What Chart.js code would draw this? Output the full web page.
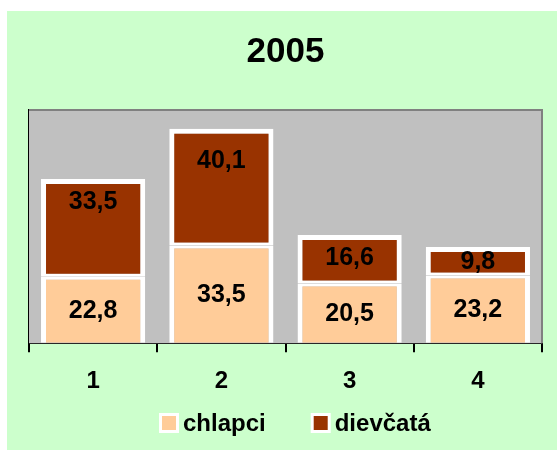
<!DOCTYPE html>
<html>
<head>
<meta charset="utf-8">
<script src="https://cdn.jsdelivr.net/npm/chart.js@4/dist/chart.umd.min.js"></script>
<style>
  html, body { margin: 0; padding: 0; background: #ffffff; }
  #wrap { position: absolute; left: 7px; top: 11px; width: 550px; height: 439px; background: #CCFFCC; }
  canvas { display: block; }
</style>
</head>
<body>
<div id="wrap"><canvas id="chart" width="550" height="439"></canvas></div>
<script>
  // --- Data ---
  const categories = ['1', '2', '3', '4'];
  const chlapci = [22.8, 33.5, 20.5, 23.2];
  const dievcata = [33.5, 40.1, 16.6, 9.8];
  const seriesNames = ['chlapci', 'dievčatá'];
  const chartTitle = '2005';

  const FONT = "'Liberation Sans', Arial, sans-serif";
  const PEACH = '#FFCC99';
  const BROWN = '#993300';

  function fmt(v) {
    return v.toFixed(1).replace('.', ',');
  }

  // plot background + frame
  const plotFrame = {
    id: 'plotFrame',
    beforeDatasetsDraw: function (chart) {
      const a = chart.chartArea;
      const c = chart.ctx;
      c.save();
      c.fillStyle = '#C0C0C0';
      c.fillRect(a.left, a.top, a.right - a.left, a.bottom - a.top);
      c.strokeStyle = '#808080';
      c.lineWidth = 2;
      c.beginPath();
      c.moveTo(a.left, a.top);
      c.lineTo(a.right, a.top);
      c.lineTo(a.right, a.bottom);
      c.stroke();
      c.restore();
    }
  };

  // value labels inside the segments
  const valueLabels = {
    id: 'valueLabels',
    afterDatasetsDraw: function (chart) {
      const c = chart.ctx;
      c.save();
      c.font = 'bold 25px ' + FONT;
      c.fillStyle = '#000000';
      c.textAlign = 'center';
      c.textBaseline = 'middle';
      chart.data.datasets.forEach(function (ds, di) {
        chart.getDatasetMeta(di).data.forEach(function (bar, i) {
          const top = bar.y;
          const center = (bar.y + bar.base) / 2;
          let y = center;
          if (di === 1) {
            y = Math.min(center, Math.max(center - 27, top + 22));
          }
          c.fillText(fmt(ds.data[i]), bar.x, y + 1);
        });
      });
      c.restore();
    }
  };

  // legend drawn by hand (tight box/text gap)
  const bottomLegend = {
    id: 'bottomLegend',
    afterDraw: function (chart) {
      const c = chart.ctx;
      c.save();
      c.font = 'bold 24px ' + FONT;
      c.textBaseline = 'middle';
      c.textAlign = 'left';
      let x = 152;
      const y = 412;
      chart.data.datasets.forEach(function (ds) {
        c.fillStyle = '#FFFFFF';
        c.fillRect(x, y - 10, 20, 20);
        c.fillStyle = ds.backgroundColor;
        c.fillRect(x + 3, y - 7, 14, 14);
        c.fillStyle = '#000000';
        c.fillText(ds.label, x + 24, y + 1);
        x += 24 + c.measureText(ds.label).width + 45;
      });
      c.restore();
    }
  };

  new Chart(document.getElementById('chart'), {
    type: 'bar',
    data: {
      labels: categories,
      datasets: [{
        label: seriesNames[0],
        data: chlapci,
        backgroundColor: PEACH,
        borderColor: '#FFFFFF',
        borderWidth: { left: 5, right: 5, top: 3, bottom: 0 },
        borderSkipped: false
      }, {
        label: seriesNames[1],
        data: dievcata,
        backgroundColor: BROWN,
        borderColor: '#FFFFFF',
        borderWidth: { left: 5, right: 5, top: 5, bottom: 3 },
        borderSkipped: false
      }]
    },
    options: {
      responsive: false,
      animation: false,
      datasets: {
        bar: { categoryPercentage: 1, barPercentage: 0.8125 }
      },
      layout: { padding: { left: 22, right: 15, top: 0, bottom: 39 } },
      plugins: {
        legend: { display: false },
        tooltip: { enabled: false },
        title: {
          display: true,
          text: chartTitle,
          color: '#000000',
          font: { family: FONT, size: 35, weight: 'bold', lineHeight: 1.2 },
          padding: { top: 20, bottom: 37 }
        }
      },
      scales: {
        x: {
          stacked: true,
          grid: {
            offset: true,
            drawOnChartArea: false,
            color: '#000000',
            lineWidth: 2,
            tickLength: 9
          },
          border: { color: '#000000', width: 2 },
          ticks: {
            color: '#000000',
            padding: 15,
            font: { family: FONT, size: 24, weight: 'bold' }
          }
        },
        y: {
          stacked: true,
          min: 0,
          max: 80,
          grid: { drawOnChartArea: false, drawTicks: false },
          border: { color: '#000000', width: 2 },
          ticks: { display: false }
        }
      }
    },
    plugins: [plotFrame, valueLabels, bottomLegend]
  });
</script>
</body>
</html>
